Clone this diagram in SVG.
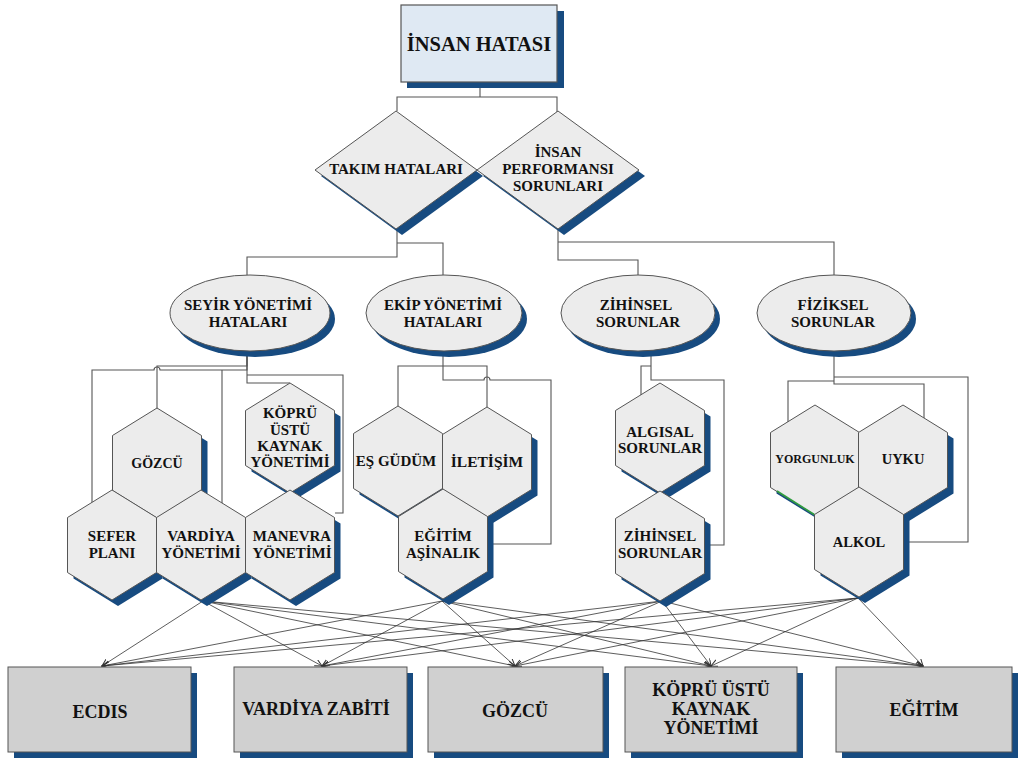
<svg xmlns="http://www.w3.org/2000/svg" xmlns:xlink="http://www.w3.org/1999/xlink" width="1021" height="758" viewBox="0 0 1021 758">
<style>
  .t { font-family: "Liberation Serif", "Times New Roman", serif; font-weight: bold; fill: #111; text-anchor: middle; }
  .shd { fill: #174b80; stroke: none; }
  .shape { fill: #ececec; stroke: #555; stroke-width: 1; }
  .top { fill: #dfe9f3; stroke: #555; stroke-width: 1.2; }
  .box { fill: #d0d0d0; stroke: #555; stroke-width: 1; }
  .elbow { fill: none; stroke: #555; stroke-width: 1.1; }
  .arr { fill: none; stroke: #333; stroke-width: 0.8; marker-end: url(#ah); }
</style>
<defs>
  <marker id="ah" markerUnits="userSpaceOnUse" markerWidth="10" markerHeight="10" refX="7" refY="3.5" orient="auto">
    <path d="M0,0 L7,3.5 L0,7" fill="none" stroke="#333" stroke-width="1"/>
  </marker>
  <polygon id="hex" points="0,-55 44.5,-27.5 44.5,27.5 0,55 -44.5,27.5 -44.5,-27.5"/>
  <polygon id="dia" points="0,-59 81,0 0,59 -81,0"/>
</defs>
<rect width="1021" height="758" fill="#fff"/>

<g id="connectors">
  <!-- top level -->
  <path class="elbow" d="M480,82 V97 H397 V111 M480,97 H557 V112"/>
  <path class="elbow" d="M397,229 V257 H247 V275 M397,243 H443 V275"/>
  <path class="elbow" d="M558,228 V260 H638 V275 M558,242 H834 V275"/>
  <!-- Seyir -->
  <path class="elbow" d="M247,351 V366 H157 V409"/>
  <path class="elbow" d="M247,351 V370 H160 A3,3 0 0 0 154,370 H92 V503"/>
  <path class="elbow" d="M222,370 V504"/>
  <path class="elbow" d="M247,351 V383 H290"/>
  <path class="elbow" d="M247,375 H343 V513 H335"/>
  <!-- Ekip -->
  <path class="elbow" d="M443,351 V380 H484 A3,3 0 0 1 490,380 H551 V544 H488"/>
  <path class="elbow" d="M443,366 H398 V406"/>
  <path class="elbow" d="M443,366 H487 V407"/>
  <!-- Zihinsel -->
  <path class="elbow" d="M651,351 V380 H724 V545 H705"/>
  <path class="elbow" d="M651,366 H641 V397"/>
  <!-- Fiziksel -->
  <path class="elbow" d="M834,352 V384 H924 V418"/>
  <path class="elbow" d="M834,377 H968 V542 H904"/>
  <path class="elbow" d="M834,381 H788 V422"/>
  <!-- arrows to bottom boxes -->
  <g>
    <line class="arr" x1="203" y1="601" x2="102" y2="666"/>
    <line class="arr" x1="203" y1="601" x2="322" y2="666"/>
    <line class="arr" x1="203" y1="601" x2="515" y2="666"/>
    <line class="arr" x1="203" y1="601" x2="711" y2="666"/>
    <line class="arr" x1="203" y1="601" x2="923" y2="666"/>
    <line class="arr" x1="442" y1="601" x2="102" y2="666"/>
    <line class="arr" x1="442" y1="601" x2="322" y2="666"/>
    <line class="arr" x1="442" y1="601" x2="515" y2="666"/>
    <line class="arr" x1="442" y1="601" x2="711" y2="666"/>
    <line class="arr" x1="442" y1="601" x2="923" y2="666"/>
    <line class="arr" x1="662" y1="601" x2="102" y2="666"/>
    <line class="arr" x1="662" y1="601" x2="322" y2="666"/>
    <line class="arr" x1="662" y1="601" x2="515" y2="666"/>
    <line class="arr" x1="662" y1="601" x2="711" y2="666"/>
    <line class="arr" x1="662" y1="601" x2="923" y2="666"/>
    <line class="arr" x1="858" y1="598" x2="102" y2="666"/>
    <line class="arr" x1="858" y1="598" x2="322" y2="666"/>
    <line class="arr" x1="858" y1="598" x2="515" y2="666"/>
    <line class="arr" x1="858" y1="598" x2="711" y2="666"/>
    <line class="arr" x1="858" y1="598" x2="923" y2="666"/>
  </g>
</g>

<!-- Top -->
<g id="insan-hatasi">
  <rect class="shd" x="407" y="11" width="157" height="77"/>
  <rect class="top" x="401" y="5" width="156" height="77"/>
  <text class="t" x="479" y="51" font-size="20.5">İNSAN HATASI</text>
</g>

<!-- Diamonds -->
<g id="takim-hatalari" transform="translate(396,170)">
  <use href="#dia" class="shd" x="6" y="6"/>
  <use href="#dia" class="shape"/>
  <text class="t" x="0" y="4" font-size="15">TAKIM HATALARI</text>
</g>
<g id="insan-performansi" transform="translate(558,170)">
  <use href="#dia" class="shd" x="6" y="6"/>
  <use href="#dia" class="shape"/>
  <text class="t" x="0" y="-13" font-size="15">İNSAN</text>
  <text class="t" x="0" y="4" font-size="15">PERFORMANSI</text>
  <text class="t" x="0" y="21" font-size="15">SORUNLARI</text>
</g>

<!-- Ellipses -->
<g id="seyir-yonetimi">
  <ellipse class="shd" cx="255" cy="319" rx="80" ry="38"/>
  <ellipse class="shape" cx="250" cy="313" rx="80" ry="38"/>
  <text class="t" x="248" y="310" font-size="15">SEYİR YÖNETİMİ</text>
  <text class="t" x="248" y="327" font-size="15">HATALARI</text>
</g>
<g id="ekip-yonetimi">
  <ellipse class="shd" cx="449" cy="319" rx="78" ry="38"/>
  <ellipse class="shape" cx="444" cy="313" rx="78" ry="38"/>
  <text class="t" x="443" y="310" font-size="15">EKİP YÖNETİMİ</text>
  <text class="t" x="443" y="327" font-size="15">HATALARI</text>
</g>
<g id="zihinsel-sorunlar">
  <ellipse class="shd" cx="643" cy="319" rx="77" ry="38"/>
  <ellipse class="shape" cx="638" cy="313" rx="77" ry="38"/>
  <text class="t" x="636" y="310" font-size="15">ZİHİNSEL</text>
  <text class="t" x="638" y="327" font-size="15">SORUNLAR</text>
</g>
<g id="fiziksel-sorunlar">
  <ellipse class="shd" cx="839" cy="319" rx="77" ry="38"/>
  <ellipse class="shape" cx="834" cy="313" rx="77" ry="38"/>
  <text class="t" x="833" y="310" font-size="15">FİZİKSEL</text>
  <text class="t" x="833" y="327" font-size="15">SORUNLAR</text>
</g>

<!-- Seyir hexes -->
<g id="gozcu-hex" transform="translate(157,463)">
  <use href="#hex" class="shd" x="6" y="6"/>
  <use href="#hex" class="shape"/>
  <text class="t" x="0" y="5" font-size="14">GÖZCÜ</text>
</g>
<g id="kopru-hex" transform="translate(290,438)">
  <use href="#hex" class="shd" x="6" y="6"/>
  <use href="#hex" class="shape"/>
  <text class="t" x="0" y="-20" font-size="15">KÖPRÜ</text>
  <text class="t" x="0" y="-3" font-size="15">ÜSTÜ</text>
  <text class="t" x="0" y="13" font-size="15">KAYNAK</text>
  <text class="t" x="0" y="29" font-size="15">YÖNETİMİ</text>
</g>
<g id="sefer-plani" transform="translate(112,545)">
  <use href="#hex" class="shd" x="6" y="6"/>
  <use href="#hex" class="shape"/>
  <text class="t" x="0" y="-4" font-size="15">SEFER</text>
  <text class="t" x="0" y="13" font-size="15">PLANI</text>
</g>
<g id="vardiya-yonetimi" transform="translate(201,545)">
  <use href="#hex" class="shd" x="6" y="6"/>
  <use href="#hex" class="shape"/>
  <text class="t" x="0" y="-4" font-size="15">VARDİYA</text>
  <text class="t" x="0" y="13" font-size="15">YÖNETİMİ</text>
</g>
<g id="manevra-yonetimi" transform="translate(290,545)">
  <use href="#hex" class="shd" x="6" y="6"/>
  <use href="#hex" class="shape"/>
  <text class="t" x="2" y="-4" font-size="15">MANEVRA</text>
  <text class="t" x="2" y="13" font-size="15">YÖNETİMİ</text>
</g>

<!-- Ekip hexes -->
<g id="es-gudum" transform="translate(398,461)">
  <use href="#hex" class="shd" x="6" y="6"/>
  <use href="#hex" class="shape"/>
  <text class="t" x="-2" y="5" font-size="15">EŞ GÜDÜM</text>
</g>
<g id="iletisim" transform="translate(487,462)">
  <use href="#hex" class="shd" x="6" y="6"/>
  <use href="#hex" class="shape"/>
  <text class="t" x="0" y="5" font-size="15.5">İLETİŞİM</text>
</g>
<g id="egitim-asinalik" transform="translate(443,544)">
  <use href="#hex" class="shd" x="6" y="6"/>
  <use href="#hex" class="shape"/>
  <text class="t" x="0" y="-3" font-size="15">EĞİTİM</text>
  <text class="t" x="0" y="14" font-size="15">AŞİNALIK</text>
</g>

<!-- Zihinsel hexes -->
<g id="algisal-sorunlar" transform="translate(660,438)">
  <use href="#hex" class="shd" x="6" y="6"/>
  <use href="#hex" class="shape"/>
  <text class="t" x="0" y="-1" font-size="15">ALGISAL</text>
  <text class="t" x="0" y="15" font-size="15">SORUNLAR</text>
</g>
<g id="zihinsel-hex" transform="translate(660,546)">
  <use href="#hex" class="shd" x="6" y="6"/>
  <use href="#hex" class="shape"/>
  <text class="t" x="0" y="-5" font-size="15">ZİHİNSEL</text>
  <text class="t" x="0" y="12" font-size="15">SORUNLAR</text>
</g>

<!-- Fiziksel hexes -->
<g id="yorgunluk" transform="translate(815,460)">
  <use href="#hex" class="shd" x="6" y="6"/>
  <use href="#hex" class="shape"/>
  <line x1="-38" y1="31" x2="0" y2="55" stroke="#2f9e3f" stroke-width="1.6"/>
  <text class="t" x="0" y="3" font-size="12">YORGUNLUK</text>
</g>
<g id="uyku" transform="translate(903,460)">
  <use href="#hex" class="shd" x="6" y="6"/>
  <use href="#hex" class="shape"/>
  <text class="t" x="0" y="4" font-size="14.5">UYKU</text>
</g>
<g id="alkol" transform="translate(859,542)">
  <use href="#hex" class="shd" x="6" y="6"/>
  <use href="#hex" class="shape"/>
  <text class="t" x="0" y="5" font-size="14.5">ALKOL</text>
</g>

<!-- Bottom boxes -->
<g id="ecdis">
  <rect class="shd" x="14" y="673" width="183" height="85"/>
  <rect class="box" x="8" y="667" width="183" height="85"/>
  <text class="t" x="100" y="718" font-size="18">ECDIS</text>
</g>
<g id="vardiya-zabiti">
  <rect class="shd" x="240" y="673" width="173" height="85"/>
  <rect class="box" x="234" y="667" width="173" height="85"/>
  <text class="t" x="316" y="715" font-size="18">VARDİYA ZABİTİ</text>
</g>
<g id="gozcu-box">
  <rect class="shd" x="434" y="673" width="175" height="85"/>
  <rect class="box" x="428" y="667" width="175" height="85"/>
  <text class="t" x="515" y="717" font-size="18">GÖZCÜ</text>
</g>
<g id="kopru-box">
  <rect class="shd" x="631" y="673" width="172" height="85"/>
  <rect class="box" x="625" y="667" width="172" height="85"/>
  <text class="t" x="711" y="696" font-size="18">KÖPRÜ ÜSTÜ</text>
  <text class="t" x="711" y="715" font-size="18">KAYNAK</text>
  <text class="t" x="711" y="734" font-size="18">YÖNETİMİ</text>
</g>
<g id="egitim-box">
  <rect class="shd" x="842" y="673" width="176" height="85"/>
  <rect class="box" x="836" y="667" width="176" height="85"/>
  <text class="t" x="924" y="716" font-size="18">EĞİTİM</text>
</g>
</svg>
